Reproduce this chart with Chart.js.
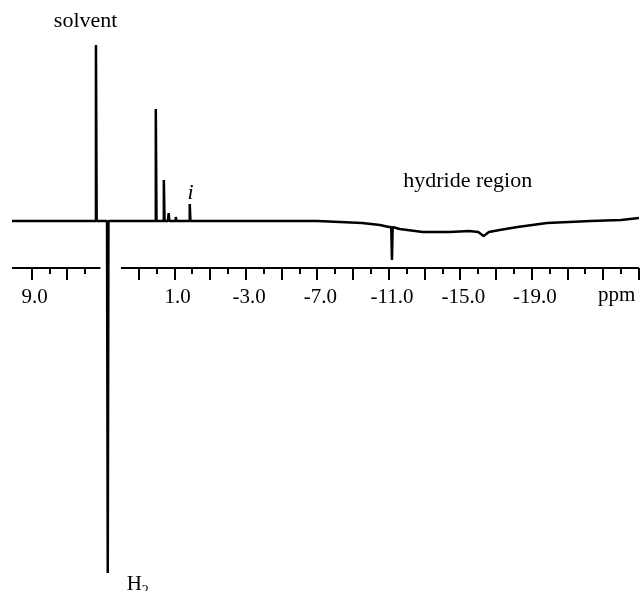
<!DOCTYPE html>
<html>
<head>
<meta charset="utf-8">
<script src="https://cdn.jsdelivr.net/npm/chart.js@4.4.1/dist/chart.umd.min.js"></script>
<style>
    body { margin: 0; background: #fff; }
    #wrap { width: 641px; height: 591px; }
</style>
</head>
<body>
<div id="wrap"><canvas id="nmr" width="641" height="591"></canvas></div>
<script>
// Spectrum data (ppm, intensity)
const baselinePpm = [10.1, 9.0, 8.0, 7.0, 6.0, 5.6, 5.0, 4.0, 3.0, 2.5, 1.0, 0.5, -1.0, -3.0, -5.0, -7.0,
    -8.25, -9.5, -10.5, -11.0, -11.6, -12.9, -14.4, -15.5, -16.0, -16.3, -16.6, -17.2, -18.2, -19.85, -22.3, -24.0, -25.0];
const baselineInt = [0, 0, 0, 0, 0, 0, 0, 0, 0, 0, 0, 0, 0, 0, 0, 0,
    -1, -2, -4, -6, -8, -11, -11, -10, -11, -15, -11, -9, -6, -2, 0, 1, 3];

// Sharp peaks: position, tip intensity, local baseline under the peak
const peakPpm = [5.4, 4.74, 2.05, 1.6, 1.33, 0.93, 0.15, -11.17];
const peakInt = [176, -352, 112, 41, 8, 4, 17, -39];
const peakBase = [0, 0, 0, 0, 0, 0, 0, -6];

// Axis
const axisSegments = [[10.1, 5.15], [4.0, -25.0]];
const tickValues = [9, 8, 7, 6, 3, 2, 1, 0, -1, -2, -3, -4, -5, -6, -7, -8, -9, -10, -11, -12,
    -13, -14, -15, -16, -17, -18, -19, -20, -21, -22, -23, -24, -25];
const tickLabels = [9, 1, -3, -7, -11, -15, -19];
const AXIS_Y = -47;

const SERIF = '"Liberation Serif", "DejaVu Serif", serif';

// Build the spectrum trace: baseline points plus a narrow spike for every peak
function buildSpectrum() {
    const pts = baselinePpm.map((p, i) => ({ x: p, y: baselineInt[i] }));
    peakPpm.forEach((p, i) => {
        pts.push({ x: p + 0.04, y: peakBase[i] });
        pts.push({ x: p, y: peakInt[i] });
        pts.push({ x: p - 0.04, y: peakBase[i] });
    });
    pts.sort((a, b) => b.x - a.x);
    return pts;
}

// Draw the broken ppm axis and the text labels
const axisPlugin = {
    id: 'axisPlugin',
    afterDraw(chart) {
        const ctx = chart.ctx;
        const xs = chart.scales.x;
        const ys = chart.scales.y;
        const yAxis = ys.getPixelForValue(AXIS_Y);

        ctx.save();
        ctx.strokeStyle = '#000';
        ctx.lineWidth = 2;

        axisSegments.forEach(([a, b]) => {
            ctx.beginPath();
            ctx.moveTo(xs.getPixelForValue(a), yAxis);
            ctx.lineTo(xs.getPixelForValue(b), yAxis);
            ctx.stroke();
        });

        tickValues.forEach(v => {
            const px = Math.round(xs.getPixelForValue(v));
            const len = Math.abs(v) % 2 === 1 ? 12 : 6;
            ctx.beginPath();
            ctx.moveTo(px, yAxis);
            ctx.lineTo(px, yAxis + len);
            ctx.stroke();
        });

        ctx.fillStyle = '#000';
        ctx.font = '21px ' + SERIF;
        ctx.textAlign = 'center';
        ctx.textBaseline = 'alphabetic';
        tickLabels.forEach(v => {
            ctx.fillText(v.toFixed(1), xs.getPixelForValue(v) + 3, yAxis + 35);
        });
        ctx.textAlign = 'right';
        ctx.fillText('ppm', xs.getPixelForValue(-24.8), yAxis + 33);

        // annotations
        ctx.textAlign = 'center';
        ctx.font = '22px ' + SERIF;
        ctx.fillText('solvent', xs.getPixelForValue(5.98), ys.getPixelForValue(194));
        ctx.fillText('hydride region', xs.getPixelForValue(-15.41), ys.getPixelForValue(34));

        ctx.font = 'italic 22px ' + SERIF;
        ctx.fillText('i', xs.getPixelForValue(0.1), ys.getPixelForValue(22));

        ctx.font = '21px ' + SERIF;
        ctx.textAlign = 'left';
        const hx = xs.getPixelForValue(3.68);
        const hy = ys.getPixelForValue(-369);
        ctx.fillText('H', hx, hy);
        const hw = ctx.measureText('H').width;
        ctx.font = '14px ' + SERIF;
        ctx.fillText('2', hx + hw, hy + 5);

        ctx.restore();
    }
};

new Chart(document.getElementById('nmr'), {
    type: 'scatter',
    data: {
        datasets: [{
            data: buildSpectrum(),
            showLine: true,
            borderColor: '#000',
            borderWidth: 2.5,
            borderJoinStyle: 'bevel',
            pointRadius: 0,
            tension: 0
        }]
    },
    options: {
        responsive: false,
        animation: false,
        layout: { padding: { left: 12, right: 2, top: 0, bottom: 0 } },
        plugins: {
            legend: { display: false },
            tooltip: { enabled: false }
        },
        scales: {
            x: { type: 'linear', reverse: true, min: -25, max: 10.1, display: false },
            y: { type: 'linear', min: -370, max: 221, display: false }
        }
    },
    plugins: [axisPlugin]
});
</script>
</body>
</html>
